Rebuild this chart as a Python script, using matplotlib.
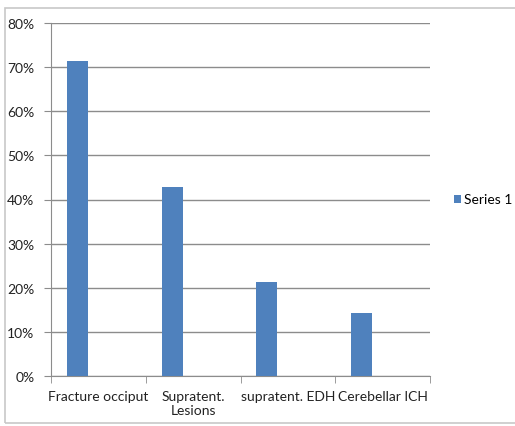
import numpy as np
import matplotlib.pyplot as plt
from matplotlib.patches import Rectangle

# Datos del gráfico
categorias = ['Fracture occiput', 'Supratent.\nLesions', 'supratent. EDH', 'Cerebellar ICH']
valores = [71.4, 42.9, 21.4, 14.3]
serie = 'Series 1'

plt.rcParams['font.family'] = ['Lato', 'DejaVu Sans']

fig = plt.figure(figsize=(5.15, 4.27), dpi=100)
ax = fig.add_axes([51 / 515, 50 / 427, 379 / 515, 353 / 427])

# Marco exterior del gráfico
fig.patches.append(Rectangle((5 / 515, 3 / 427), 1.0, 415 / 427, transform=fig.transFigure,
                             fill=False, edgecolor='#c8c8c8', linewidth=1.2))

# barras agrupadas estilo Excel: 3 huecos por categoria + espacio 150%
ancho = 1 / 4.5
x = np.arange(len(categorias))
ax.bar(x - ancho, valores, width=ancho, color='#4F81BD', label=serie, zorder=3)

ax.set_xlim(-0.5, len(categorias) - 0.5)
ax.set_ylim(0, 80)
ax.set_yticks(np.arange(0, 81, 10))
ax.set_yticklabels([f'{v}%' for v in range(0, 81, 10)], fontsize=10, color='#222222')
ax.yaxis.grid(True, color='#8c8c8c', linewidth=1, zorder=0)

ax.set_xticks(x)
ax.set_xticklabels(categorias, fontsize=10, color='#222222', multialignment='center')
ax.set_xticks(np.arange(-0.5, len(categorias)), minor=True)
ax.tick_params(axis='x', which='major', length=0, pad=10)
ax.tick_params(axis='x', which='minor', length=5, color='#8c8c8c', direction='out')
ax.tick_params(axis='y', length=5, color='#8c8c8c', pad=7)

for lado in ['top', 'right']:
    ax.spines[lado].set_visible(False)
for lado in ['left', 'bottom']:
    ax.spines[lado].set_color('#8c8c8c')

ax.legend(loc='center left', bbox_to_anchor=(1.03, 0.5), frameon=False, fontsize=10,
          handlelength=0.5, handleheight=0.5, handletextpad=0.25)

fig.savefig('out.png', dpi=100)
